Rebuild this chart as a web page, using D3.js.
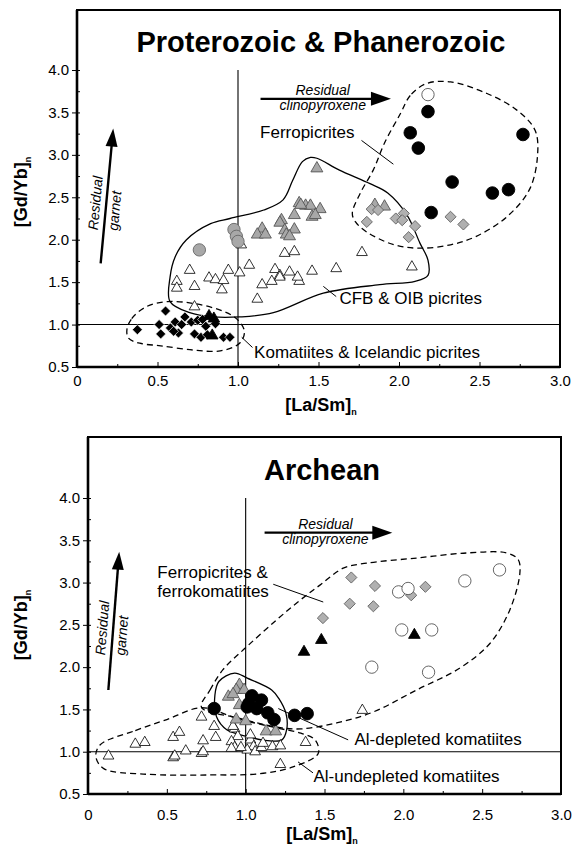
<!DOCTYPE html>
<html>
<head>
<meta charset="utf-8">
<script src="https://cdn.jsdelivr.net/npm/d3@7"></script>
<style>
body { margin: 0; background: #fff; }
svg text { font-family: "Liberation Sans", Arial, sans-serif; fill: #000; }
</style>
</head>
<body>
<svg id="chart" width="572" height="845"></svg>
<script>
// ---- shared axis values
var yMajor = [0.5, 1.0, 1.5, 2.0, 2.5, 3.0, 3.5, 4.0];
var yMinor = [0.75, 1.25, 1.75, 2.25, 2.75, 3.25, 3.75];
var xMajor = [0, 0.5, 1.0, 1.5, 2.0, 2.5, 3.0];
var xMinor = [0.25, 0.75, 1.25, 1.75, 2.25, 2.75];

// ---- Proterozoic & Phanerozoic  [La/Sm]n, [Gd/Yb]n
var topOpenTriangles = [[0.70,1.64],[0.62,1.51],[0.62,1.43],[0.73,1.45],[0.82,1.55],[0.86,1.53],[0.91,1.52],
	[0.90,1.41],[0.94,1.64],[1.01,1.61],[1.12,1.30],[0.73,1.21],[1.23,1.65],[1.26,1.58],[1.32,1.62],[1.38,1.51],
	[1.21,1.51],[1.46,1.63],[1.29,1.84],[1.35,1.86],[1.77,1.85],[2.08,1.68],[1.61,1.66],[1.02,1.94],[1.26,1.56],
	[1.37,1.56],[1.07,1.70],[1.15,1.47]];
var topBlackDiamonds = [[0.375,0.94],[0.55,1.16],[0.51,1.00],[0.52,0.89],[0.58,0.96],[0.61,1.03],[0.63,0.90],
	[0.65,1.00],[0.67,1.09],[0.71,1.03],[0.73,0.89],[0.75,1.05],[0.77,0.85],[0.80,0.98],[0.81,0.88],[0.86,1.01],
	[0.91,0.85],[0.95,0.85],[0.60,0.92],[0.78,1.06]];
var topBlackTriangles = [[0.82,1.10],[0.85,1.07],[0.84,0.87]];
var topGreyTriangles = [[1.49,2.84],[1.38,2.43],[1.42,2.40],[1.45,2.40],[1.51,2.36],[1.35,2.29],[1.46,2.27],
	[1.48,2.29],[1.27,2.23],[1.26,2.20],[1.15,2.13],[1.12,2.06],[1.17,2.06],[1.29,2.11],[1.35,2.12],[1.30,2.06],
	[1.32,2.04],[1.39,2.41],[1.85,2.41],[1.91,2.39]];
var topGreyCircles = [[0.76,1.88],[0.975,2.12],[0.99,2.04],[1.00,1.98]];
var topGreyDiamonds = [[1.83,2.36],[1.80,2.21],[1.98,2.25],[2.03,2.31],[2.02,2.23],[2.10,2.16],[2.06,2.03],
	[2.32,2.27],[2.40,2.18],[1.87,2.35]];
var topBlackCircles = [[2.18,3.51],[2.07,3.26],[2.12,3.08],[2.33,2.68],[2.20,2.32],[2.58,2.55],[2.68,2.59],[2.77,3.24]];
var topOpenCircles = [[2.18,3.71]];

var topCfbContour = [[0.578,1.27],[0.70,1.14],[0.845,1.09],[1.01,1.09],[1.22,1.14],[1.53,1.37],[1.88,1.47],
	[2.10,1.51],[2.18,1.58],[2.18,1.76],[2.13,1.96],[2.05,2.29],[1.93,2.55],[1.82,2.66],[1.63,2.82],[1.49,2.96],
	[1.45,2.97],[1.40,2.92],[1.34,2.70],[1.28,2.47],[1.16,2.35],[0.95,2.25],[0.83,2.19],[0.68,2.00],[0.61,1.80],
	[0.578,1.56]];
var topFerroContour = [[2.17,3.84],[2.07,3.70],[2.01,3.49],[1.91,3.14],[1.84,2.82],[1.76,2.55],[1.71,2.31],
	[1.73,2.21],[1.80,2.09],[1.97,1.94],[2.13,1.90],[2.32,1.94],[2.48,2.04],[2.67,2.27],[2.81,2.59],[2.86,2.98],
	[2.845,3.29],[2.73,3.53],[2.55,3.72],[2.32,3.86]];
var topKomContour = [[0.31,0.94],[0.34,1.07],[0.43,1.21],[0.56,1.27],[0.72,1.25],[0.89,1.17],[0.99,1.07],
	[1.04,0.92],[1.01,0.78],[0.89,0.69],[0.72,0.70],[0.52,0.75],[0.39,0.78],[0.32,0.84]];

// ---- Archean
var botOpenTriangles = [[0.13,0.95],[0.30,1.09],[0.36,1.11],[0.54,1.17],[0.58,1.23],[0.62,1.01],[0.54,0.93],
	[0.55,0.95],[0.72,1.41],[0.72,0.98],[0.73,1.00],[0.80,1.30],[0.81,1.17],[0.73,1.13],[0.93,1.27],[0.95,1.18],
	[0.91,1.12],[0.93,1.05],[0.91,1.04],[1.03,1.14],[1.05,1.06],[1.01,1.02],[1.06,1.00],[1.10,1.05],[1.17,1.06],
	[1.22,1.07],[1.38,1.11],[1.22,0.85],[1.03,1.20],[0.92,1.30],[1.74,1.49],[0.97,1.05],[1.11,1.10]];
var botGreyTriangles = [[0.96,1.79],[0.94,1.73],[0.89,1.65],[0.92,1.68],[0.99,1.73],[0.96,1.55],[0.94,1.38],
	[1.00,1.36],[1.13,1.24],[1.19,1.24]];
var botBlackCircles = [[0.80,1.51],[1.04,1.66],[1.10,1.61],[1.02,1.57],[1.01,1.53],[1.07,1.51],[1.14,1.46],
	[1.18,1.38],[1.31,1.43],[1.39,1.45]];
var botGreyDiamonds = [[1.67,3.06],[1.82,2.96],[2.14,2.95],[2.05,2.85],[1.66,2.75],[1.81,2.72],[1.49,2.58]];
var botOpenCircles = [[1.97,2.89],[2.03,2.93],[2.39,3.02],[2.61,3.15],[1.99,2.44],[2.18,2.44],[1.80,2.00],[2.16,1.94]];
var botBlackTriangles = [[2.07,2.38],[1.48,2.32],[1.37,2.18]];

var botDepletedContour = [[0.93,1.93],[0.83,1.83],[0.805,1.67],[0.816,1.41],[0.88,1.26],[1.01,1.18],[1.14,1.13],
	[1.23,1.14],[1.26,1.26],[1.256,1.45],[1.21,1.63],[1.165,1.73],[1.01,1.87]];
var botFerroContour = [[0.72,1.525],[0.774,1.73],[0.856,1.97],[1.006,2.24],[1.197,2.56],[1.344,2.79],[1.471,2.97],
	[1.619,3.17],[1.767,3.23],[2.084,3.29],[2.401,3.35],[2.655,3.35],[2.729,3.27],[2.739,3.11],[2.676,2.68],
	[2.549,2.28],[2.359,1.99],[2.084,1.73],[1.809,1.47],[1.577,1.34],[1.35,1.27],[1.2,1.29],[0.95,1.40]];
var botUndepletedContour = [[0.076,1.08],[0.30,1.25],[0.50,1.38],[0.72,1.52],[0.95,1.39],[1.2,1.28],[1.35,1.22],
	[1.44,1.14],[1.46,0.98],[1.30,0.82],[1.09,0.74],[0.77,0.725],[0.35,0.736],[0.10,0.80],[0.05,0.94]];

// ---- annotations (data units)
var topLabels = [
	{text: "Ferropicrites", at: [1.137, 3.20], leader: [[1.767, 3.17], [1.965, 2.89]]},
	{text: "CFB & OIB picrites", at: [1.63, 1.245], leader: [[1.53, 1.45], [1.61, 1.33]]},
	{text: "Komatiites & Icelandic picrites", at: [1.10, 0.61], leader: [[1.023, 0.85], [1.09, 0.73]]}
];
var botLabels = [
	{text: ["Ferropicrites &", "ferrokomatiites"], at: [0.44, 3.054], leader: [[1.175, 2.98], [1.492, 2.77]]},
	{text: ["Al-depleted komatiites"], at: [1.69, 1.08], leader: [[1.207, 1.51], [1.65, 1.14]]},
	{text: ["Al-undepleted komatiites"], at: [1.43, 0.642], leader: [[1.332, 0.88], [1.427, 0.75]]}
];

var svg = d3.select('#chart');

function drawPanel(p) {
	var x = d3.scaleLinear().domain([0, 3]).range([p.left, p.right]);
	var y = d3.scaleLinear().domain([0.5, 4.0]).range([p.bottom, p.top4]);
	var g = svg.append('g');

	// frame
	g.append('rect').attr('x', p.left).attr('y', p.frameTop)
		.attr('width', p.right - p.left).attr('height', p.bottom - p.frameTop)
		.attr('fill', 'none').attr('stroke', '#000').attr('stroke-width', 2);
	g.append('line').attr('x1', p.left).attr('x2', p.left).attr('y1', p.frameTop).attr('y2', p.bottom)
		.attr('stroke', '#000').attr('stroke-width', 2.6);
	g.append('line').attr('x1', p.left).attr('x2', p.right).attr('y1', p.bottom).attr('y2', p.bottom)
		.attr('stroke', '#000').attr('stroke-width', 2.6);

	// y axis
	var ya = g.append('g').attr('transform', 'translate(' + p.left + ',0)')
		.call(d3.axisLeft(y).tickValues(yMajor).tickFormat(d3.format('.1f')).tickSize(5).tickPadding(3));
	ya.select('.domain').remove();
	ya.selectAll('.tick line').attr('x1', 3).attr('stroke-width', 1);
	ya.selectAll('text').style('font-size', '15px').attr('fill', '#000');
	var yb = g.append('g').attr('transform', 'translate(' + p.left + ',0)')
		.call(d3.axisRight(y).tickValues(yMinor).tickFormat('').tickSize(3));
	yb.select('.domain').remove();

	// x axis
	var xa = g.append('g').attr('transform', 'translate(0,' + p.bottom + ')')
		.call(d3.axisTop(x).tickValues(xMajor).tickFormat(function (d) { return d === 0 ? '0' : d3.format('.1f')(d); })
			.tickSize(5));
	xa.select('.domain').remove();
	xa.selectAll('text').attr('y', p.xLabelDy).attr('dy', 0).style('font-size', '15px').attr('fill', '#000');
	var xb = g.append('g').attr('transform', 'translate(0,' + p.bottom + ')')
		.call(d3.axisTop(x).tickValues(xMinor).tickFormat('').tickSize(3));
	xb.select('.domain').remove();

	// reference lines
	g.append('line').attr('x1', x(1)).attr('x2', x(1)).attr('y1', y(4.0)).attr('y2', y(0.5))
		.attr('stroke', '#000').attr('stroke-width', 1.1);
	g.append('line').attr('x1', x(0)).attr('x2', x(3)).attr('y1', y(1.0)).attr('y2', y(1.0))
		.attr('stroke', '#000').attr('stroke-width', 1.1);

	// axis titles
	var yt = g.append('text').attr('transform', 'translate(27,' + p.yTitleY + ') rotate(-90)')
		.attr('text-anchor', 'middle').style('font-size', '18px').style('font-weight', 'bold');
	yt.append('tspan').text('[Gd/Yb]');
	yt.append('tspan').attr('dy', 4).style('font-size', '9px').text('n');
	var xt = g.append('text').attr('x', p.xTitleX).attr('y', p.xTitleY)
		.attr('text-anchor', 'middle').style('font-size', '18px').style('font-weight', 'bold');
	xt.append('tspan').text('[La/Sm]');
	xt.append('tspan').attr('dy', 4).style('font-size', '9px').text('n');

	// title
	g.append('text').attr('x', p.titleX).attr('y', p.titleY).attr('text-anchor', 'middle')
		.style('font-size', '29px').style('font-weight', 'bold').text(p.title);

	// contours
	var line = d3.line().x(function (d) { return x(d[0]); }).y(function (d) { return y(d[1]); })
		.curve(d3.curveCatmullRomClosed.alpha(0.5));
	p.contours.forEach(function (c) {
		g.append('path').attr('d', line(c.pts)).attr('fill', 'none').attr('stroke', '#000')
			.attr('stroke-width', 1.3).attr('stroke-dasharray', c.dashed ? '6,4' : null);
	});

	// points
	p.series.forEach(function (s) {
		var sym = d3.symbol().type(s.type).size(s.size);
		g.append('g').selectAll('path').data(s.data).enter().append('path')
			.attr('d', sym)
			.attr('transform', function (d) {
				return 'translate(' + x(d[0]) + ',' + y(d[1]) + ')' + (s.rotate ? ' rotate(45)' : '');
			})
			.attr('fill', s.fill).attr('stroke', s.stroke).attr('stroke-width', s.sw || 0.9);
	});

	// labels with leader lines
	p.labels.forEach(function (l) {
		var lines = [].concat(l.text);
		var t = g.append('text').attr('x', x(l.at[0])).attr('y', y(l.at[1])).style('font-size', '17px');
		lines.forEach(function (s, i) {
			t.append('tspan').attr('x', x(l.at[0])).attr('dy', i === 0 ? 0 : 19).text(s);
		});
		g.append('line').attr('x1', x(l.leader[0][0])).attr('y1', y(l.leader[0][1]))
			.attr('x2', x(l.leader[1][0])).attr('y2', y(l.leader[1][1]))
			.attr('stroke', '#000').attr('stroke-width', 1);
	});

	// arrows
	var cpx = p.cpxArrow;
	g.append('line').attr('x1', x(cpx[0][0])).attr('y1', y(cpx[0][1])).attr('x2', x(cpx[1][0]) - 14).attr('y2', y(cpx[1][1]))
		.attr('stroke', '#000').attr('stroke-width', 2.4);
	g.append('path').attr('d', 'M0,0 L-20,-7 L-20,7 Z')
		.attr('transform', 'translate(' + x(cpx[1][0]) + ',' + y(cpx[1][1]) + ')');
	var cmid = (x(cpx[0][0]) + x(cpx[1][0])) / 2 - 3;
	g.append('text').attr('x', cmid).attr('y', y(cpx[0][1]) - 4).attr('text-anchor', 'middle')
		.style('font-size', '14px').style('font-style', 'italic').text('Residual');
	g.append('text').attr('x', cmid).attr('y', y(cpx[0][1]) + 11).attr('text-anchor', 'middle')
		.style('font-size', '14px').style('font-style', 'italic').text('clinopyroxene');

	var gt = p.garnetArrow;
	var x0 = x(gt[0][0]), y0 = y(gt[0][1]), x1 = x(gt[1][0]), y1 = y(gt[1][1]);
	var ang = Math.atan2(y1 - y0, x1 - x0) * 180 / Math.PI;
	var len = Math.hypot(x1 - x0, y1 - y0);
	var ag = g.append('g').attr('transform', 'translate(' + x0 + ',' + y0 + ') rotate(' + ang + ')');
	ag.append('line').attr('x1', 0).attr('y1', 0).attr('x2', len - 12).attr('y2', 0)
		.attr('stroke', '#000').attr('stroke-width', 2.4);
	ag.append('path').attr('d', 'M' + len + ',0 L' + (len - 18) + ',-6 L' + (len - 18) + ',6 Z');
	ag.append('text').attr('x', len / 2 - 8).attr('y', -6).attr('text-anchor', 'middle')
		.style('font-size', '14px').style('font-style', 'italic').text('Residual');
	ag.append('text').attr('x', len / 2 - 14).attr('y', 14).attr('text-anchor', 'middle')
		.style('font-size', '14px').style('font-style', 'italic').text('garnet');
}

var openTri = {type: d3.symbolTriangle, size: 50, fill: '#fff', stroke: '#000', sw: 0.8};
var greyTri = {type: d3.symbolTriangle, size: 62, fill: '#a8a8a8', stroke: '#555', sw: 0.9};
var blackTri = {type: d3.symbolTriangle, size: 58, fill: '#000', stroke: '#000'};
var blackDia = {type: d3.symbolSquare, size: 50, fill: '#000', stroke: '#fff', sw: 0.6, rotate: true};
var greyDia = {type: d3.symbolSquare, size: 62, fill: '#b0b0b0', stroke: '#666', sw: 0.9, rotate: true};
var greyCirc = {type: d3.symbolCircle, size: 120, fill: '#a8a8a8', stroke: '#666'};
var blackCirc = {type: d3.symbolCircle, size: 125, fill: '#000', stroke: '#000'};
var openCirc = {type: d3.symbolCircle, size: 120, fill: '#fff', stroke: '#555', sw: 0.9};

function withData(style, data) { return Object.assign({}, style, {data: data}); }

drawPanel({
	title: 'Proterozoic & Phanerozoic', titleX: 321, titleY: 52,
	left: 77, right: 560, bottom: 367, top4: 70, frameTop: 10,
	xLabelDy: 19, xTitleX: 321, xTitleY: 411, yTitleY: 192,
	contours: [{pts: topCfbContour}, {pts: topFerroContour, dashed: true}, {pts: topKomContour, dashed: true}],
	series: [
		withData(openTri, topOpenTriangles),
		withData(greyCirc, topGreyCircles),
		withData(greyTri, topGreyTriangles),
		withData(greyDia, topGreyDiamonds),
		withData(blackDia, topBlackDiamonds),
		withData(blackTri, topBlackTriangles),
		withData(blackCirc, topBlackCircles),
		withData(openCirc, topOpenCircles)
	],
	labels: topLabels,
	cpxArrow: [[1.14, 3.66], [1.95, 3.66]],
	garnetArrow: [[0.147, 1.72], [0.225, 3.31]]
});

drawPanel({
	title: 'Archean', titleX: 322, titleY: 480,
	left: 88, right: 561, bottom: 794, top4: 498, frameTop: 437,
	xLabelDy: 26, xTitleX: 322, xTitleY: 840, yTitleY: 625,
	contours: [{pts: botFerroContour, dashed: true}, {pts: botUndepletedContour, dashed: true}, {pts: botDepletedContour}],
	series: [
		withData(openTri, botOpenTriangles),
		withData(greyTri, botGreyTriangles),
		withData(blackCirc, botBlackCircles),
		withData(greyDia, botGreyDiamonds),
		withData(openCirc, botOpenCircles),
		withData(blackTri, botBlackTriangles)
	],
	labels: botLabels,
	cpxArrow: [[1.12, 3.59], [1.93, 3.59]],
	garnetArrow: [[0.129, 1.73], [0.198, 3.365]]
});
</script>
</body>
</html>
